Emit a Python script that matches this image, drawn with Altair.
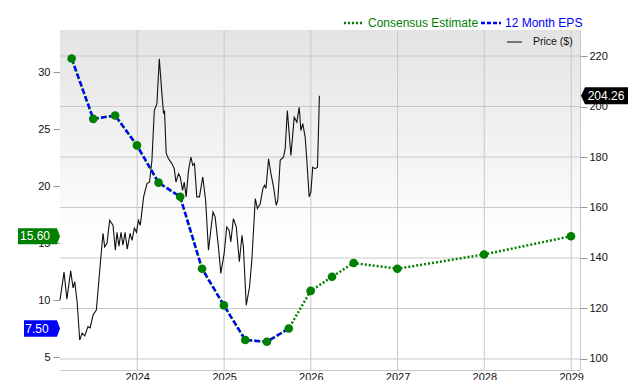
import altair as alt
import pandas as pd

# ---------------- data ----------------
eps_dates = ["2023-03-31", "2023-06-30", "2023-09-30", "2023-12-31", "2024-03-31",
             "2024-06-30", "2024-09-30", "2024-12-31", "2025-03-31", "2025-06-30",
             "2025-09-30", "2025-12-31", "2026-03-31", "2026-06-30", "2026-12-31",
             "2027-12-31", "2028-12-31"]
eps_values = [31.2, 25.9, 26.2, 23.57, 20.3, 19.06, 12.75, 9.53, 6.49, 6.34,
              7.50, 10.8, 12.04, 13.25, 12.75, 14.0, 15.60]
eps_kind = ["actual"] * 11 + ["estimate"] * 6

price_dates = ["2023-02-10", "2023-02-27", "2023-03-11", "2023-03-27", "2023-04-06", "2023-04-13",
               "2023-04-23", "2023-05-04", "2023-05-14", "2023-05-25", "2023-06-08", "2023-06-17",
               "2023-06-29", "2023-07-13", "2023-07-31", "2023-08-10", "2023-08-17", "2023-08-27",
               "2023-09-07", "2023-09-21", "2023-10-01", "2023-10-08", "2023-10-16", "2023-10-25",
               "2023-11-02", "2023-11-11", "2023-11-20", "2023-12-02", "2023-12-10", "2023-12-20",
               "2023-12-29",
               "2024-01-06", "2024-01-14", "2024-01-28", "2024-02-11", "2024-02-22", "2024-03-03",
               "2024-03-13", "2024-03-24", "2024-04-03", "2024-04-14", "2024-04-21", "2024-04-25",
               "2024-05-02", "2024-05-12", "2024-05-26", "2024-06-05", "2024-06-12", "2024-06-23",
               "2024-06-30", "2024-07-10", "2024-07-17", "2024-07-25", "2024-08-04", "2024-08-14",
               "2024-08-22", "2024-08-29", "2024-09-08", "2024-09-19", "2024-10-03", "2024-10-15",
               "2024-10-27", "2024-11-15", "2024-11-24", "2024-12-08", "2024-12-18",
               "2025-01-01", "2025-01-12", "2025-01-22", "2025-01-29", "2025-02-09", "2025-02-21",
               "2025-03-06", "2025-03-17", "2025-03-23", "2025-04-04", "2025-04-18", "2025-04-28",
               "2025-05-12", "2025-05-21", "2025-06-02", "2025-06-13", "2025-06-20", "2025-06-26",
               "2025-07-07", "2025-07-17", "2025-07-28", "2025-08-08", "2025-08-15", "2025-08-25",
               "2025-09-08", "2025-09-15", "2025-09-24", "2025-10-09", "2025-10-23", "2025-11-03",
               "2025-11-13", "2025-11-20", "2025-11-28", "2025-12-08", "2025-12-15", "2025-12-25",
               "2026-01-01", "2026-01-09", "2026-01-19", "2026-01-29", "2026-02-06"]
price_values = [123.3, 134.4, 123.7, 134.9, 128.1, 130.6,
                122.7, 107.5, 110.3, 109.1, 112.8, 112.3,
                117.4, 119.4, 139.1, 149.8, 144.4, 145.9,
                154.9, 153.0, 143.1, 150.2, 144.7, 150.2,
                145.1, 150.2, 143.5, 149.8, 147.0, 151.8,
                150.2,
                154.9, 153.0, 164.2, 169.5, 170.1, 178.7,
                198.4, 201.1, 218.9, 205.0, 197.1, 198.4,
                181.4, 179.3, 177.4, 175.4, 170.1, 173.4,
                172.1, 166.8, 170.1, 164.2, 174.7, 180.0,
                176.7, 177.4, 164.2, 164.2, 172.1, 162.9,
                143.1, 158.2, 156.3, 144.4, 133.9,
                141.8, 152.3, 151.0, 146.4, 155.6, 152.3,
                138.5, 149.0, 144.4, 121.3, 128.6, 139.8,
                163.5, 159.6, 161.5, 167.5, 168.8, 167.5,
                179.3, 173.4, 168.1, 160.9, 162.9, 178.7,
                180.0, 183.3, 198.4, 180.6, 195.8, 193.8,
                199.7, 190.5, 193.2, 187.9, 178.7, 164.2,
                166.1, 176.0, 175.4, 176.0, 204.26]

year_ticks = ["2024-01-01", "2025-01-01", "2026-01-01", "2027-01-01", "2028-01-01", "2029-01-01"]
eps_ticks = [5, 10, 15, 20, 25, 30]
price_ticks = [100, 120, 140, 160, 180, 200, 220]

legend_labels = ["Consensus Estimate", "12 Month EPS", "Price ($)"]

# ---------------- styling ----------------
FONT = "Liberation Sans"
W, H = 520, 340
GREEN = "#008000"
BLUE = "#0000ff"
GRID = "#c8c8c8"

eps_df = pd.DataFrame({"date": eps_dates, "eps": eps_values, "kind": eps_kind})
price_df = pd.DataFrame({"date": price_dates, "price": price_values})
one = pd.DataFrame({"k": [0]})

x_scale = alt.Scale(type="utc", domain=[alt.DateTime(year=2023, month=2, date=10, utc=True),
                                        alt.DateTime(year=2029, month=2, date=7, utc=True)])
x_axis = alt.Axis(title=None, format="%Y", values=[alt.DateTime(year=y, month=1, date=1, utc=True) for y in range(2024, 2030)],
                  ticks=False, grid=False, domain=False, labelPadding=1,
                  labelFontSize=11, labelFont=FONT, labelColor="#111")
X = alt.X("date:T", scale=x_scale, axis=x_axis)

eps_scale = alt.Scale(domain=[3.86, 33.7], nice=False, zero=False)
eps_axis = alt.Axis(title=None, orient="left", values=eps_ticks, grid=False, domain=False,
                    tickSize=7, tickColor="#999", labelPadding=3,
                    labelFontSize=11, labelFont=FONT, labelColor="#111")
Y_EPS = alt.Y("eps:Q", scale=eps_scale, axis=eps_axis)

price_scale = alt.Scale(domain=[95.64, 230.3], nice=False, zero=False)
price_axis = alt.Axis(title=None, orient="right", values=price_ticks, grid=False, domain=False,
                      tickSize=7, tickColor="#999", labelPadding=2,
                      labelFontSize=11, labelFont=FONT, labelColor="#111")
Y_PRICE = alt.Y("price:Q", scale=price_scale, axis=price_axis)

# ---------------- background & grid ----------------
bg = alt.Chart(one).mark_rect(
    fill=alt.Gradient(gradient="linear", x1=0, x2=0, y1=0, y2=1,
                      stops=[alt.GradientStop(color="#e3e3e3", offset=0),
                             alt.GradientStop(color="#ffffff", offset=0.62),
                             alt.GradientStop(color="#ffffff", offset=1)])
).encode(x=alt.value(0), x2=alt.value(W), y=alt.value(0), y2=alt.value(H))

xgrid = alt.Chart(pd.DataFrame({"date": year_ticks})).mark_rule(color=GRID, strokeWidth=1).encode(x=X)

# ---------------- price layer ----------------
ygrid = alt.Chart(pd.DataFrame({"price": price_ticks})).mark_rule(color=GRID, strokeWidth=1).encode(y=Y_PRICE)
price_line = alt.Chart(price_df).mark_line(color="#111111", strokeWidth=1.1).encode(x=X, y=Y_PRICE)

last_price = pd.DataFrame({"price": [price_values[-1]], "label": [f"{price_values[-1]:.2f}"]})
price_tag = alt.Chart(last_price).mark_point(
    shape="M-1,0 L-0.83,-0.36 L1,-0.36 L1,0.36 L-0.83,0.36 Z",
    size=2209, filled=True, fill="#000000", opacity=1, strokeWidth=0
).encode(x=alt.value(544.5), y=Y_PRICE)
price_tag_text = alt.Chart(last_price).mark_text(
    color="white", font=FONT, fontSize=12, align="center", baseline="middle"
).encode(x=alt.value(546), y=Y_PRICE, text="label:N")

price_layer = alt.layer(ygrid, price_line, price_tag, price_tag_text)

# ---------------- EPS layer ----------------
green_line = alt.Chart(eps_df).mark_line(color=GREEN, strokeWidth=2.5, strokeDash=[2, 2]).encode(x=X, y=Y_EPS)
blue_line = alt.Chart(eps_df).transform_filter(alt.datum.kind == "actual").mark_line(
    color=BLUE, strokeWidth=2.5, strokeDash=[5, 3]).encode(x=X, y=Y_EPS)
pts = alt.Chart(eps_df).mark_circle(size=75, color=GREEN, opacity=1).encode(x=X, y=Y_EPS)

est_tag_df = pd.DataFrame({"eps": [eps_values[-1]], "label": [f"{eps_values[-1]:.2f}"]})
act_tag_df = pd.DataFrame({"eps": [eps_values[10]], "label": [f"{eps_values[10]:.2f}"]})

est_tag = alt.Chart(est_tag_df).mark_point(
    shape="M-1,-0.38 L0.857,-0.38 L1,0 L0.857,0.38 L-1,0.38 Z",
    size=1764, filled=True, fill=GREEN, opacity=1, strokeWidth=0
).encode(x=alt.value(-21), y=Y_EPS)
est_tag_text = alt.Chart(est_tag_df).mark_text(
    color="white", font=FONT, fontSize=12, align="center", baseline="middle"
).encode(x=alt.value(-25), y=Y_EPS, text="label:N")

act_tag = alt.Chart(act_tag_df).mark_point(
    shape="M-1,-0.46 L0.833,-0.46 L1,0 L0.833,0.46 L-1,0.46 Z",
    size=1296, filled=True, fill=BLUE, opacity=1, strokeWidth=0
).encode(x=alt.value(-18), y=Y_EPS)
act_tag_text = alt.Chart(act_tag_df).mark_text(
    color="white", font=FONT, fontSize=12, align="center", baseline="middle"
).encode(x=alt.value(-23), y=Y_EPS, text="label:N")

eps_layer = alt.layer(green_line, blue_line, pts, est_tag, act_tag, est_tag_text, act_tag_text)

# ---------------- legend ----------------
leg_green = alt.Chart(one).mark_rule(color=GREEN, strokeWidth=2.5, strokeDash=[2, 2]).encode(
    x=alt.value(284), x2=alt.value(302), y=alt.value(-7))
leg_green_t = alt.Chart(one).mark_text(color=GREEN, font=FONT, fontSize=12, align="left", baseline="middle",
                                       text=legend_labels[0]).encode(x=alt.value(308), y=alt.value(-7))
leg_blue = alt.Chart(one).mark_rule(color=BLUE, strokeWidth=2.5, strokeDash=[4, 2]).encode(
    x=alt.value(421), x2=alt.value(441), y=alt.value(-7))
leg_blue_t = alt.Chart(one).mark_text(color=BLUE, font=FONT, fontSize=12, align="left", baseline="middle",
                                      text=legend_labels[1]).encode(x=alt.value(445), y=alt.value(-7))
leg_price = alt.Chart(one).mark_rule(color="#777777", strokeWidth=2).encode(
    x=alt.value(447), x2=alt.value(462), y=alt.value(12))
leg_price_t = alt.Chart(one).mark_text(color="#111111", font=FONT, fontSize=10.5, align="left", baseline="middle",
                                       text=legend_labels[2]).encode(x=alt.value(473), y=alt.value(12))

chart = alt.layer(
    bg, xgrid, price_layer, eps_layer,
    leg_green, leg_green_t, leg_blue, leg_blue_t, leg_price, leg_price_t
).resolve_scale(y="independent").properties(
    width=W, height=H,
    autosize=alt.AutoSizeParams(type="none"),
    padding={"left": 60, "top": 30, "right": 60, "bottom": 10},
    background="white"
).configure_view(stroke=GRID, strokeWidth=1)

chart.save("out.html", embed_options={"renderer": "svg", "actions": False})
